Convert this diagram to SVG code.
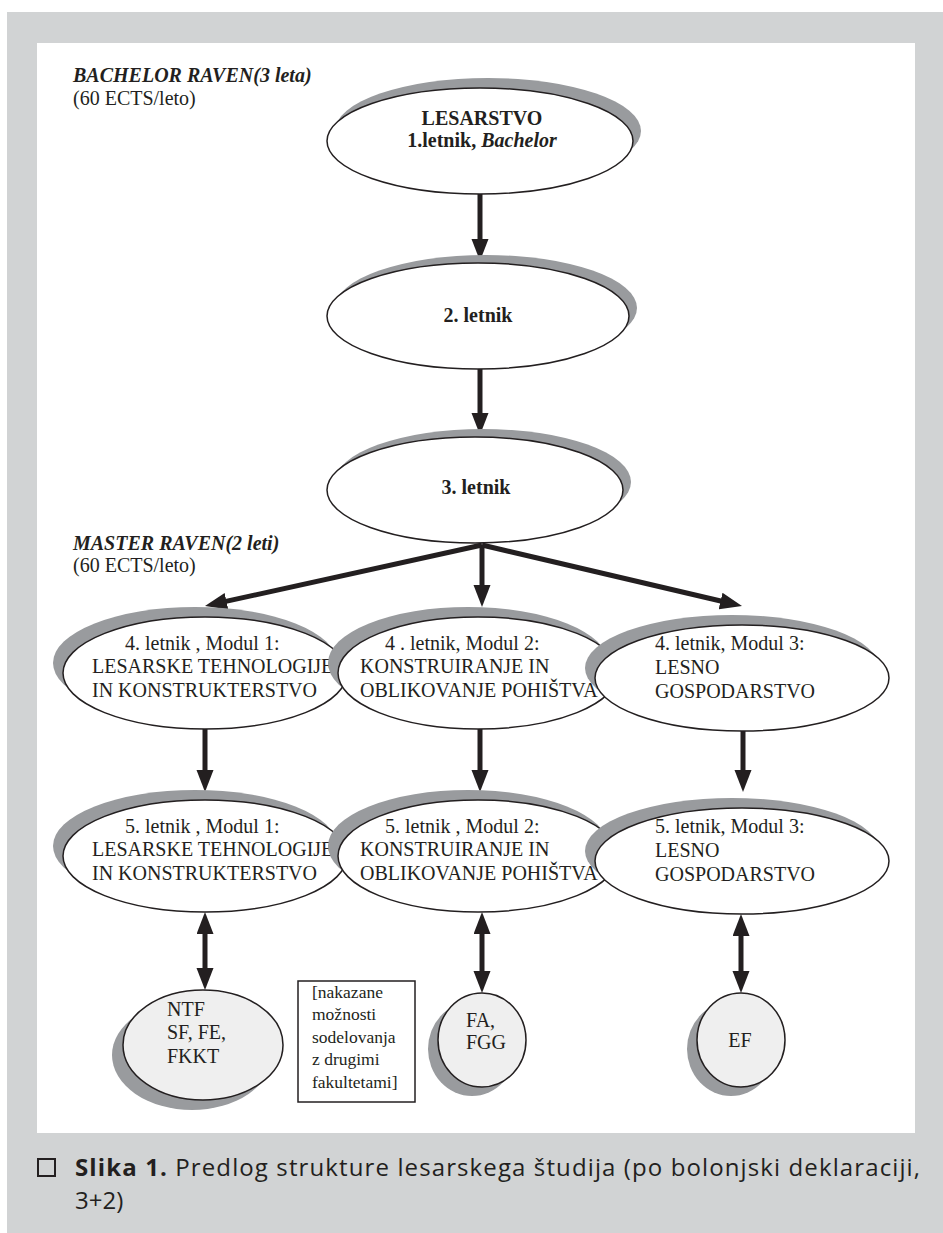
<svg xmlns="http://www.w3.org/2000/svg" width="943" height="1233" viewBox="0 0 943 1233">
<style>
.t{font-family:"Liberation Serif","Times New Roman",serif;fill:#231f20;font-size:20px}
.tb{font-weight:bold}
.bx{font-size:17.5px}
.el{fill:#fff;stroke:#231f20;stroke-width:1.5}
.ci{fill:#efefef;stroke:#231f20;stroke-width:1.5}
.sh{fill:#999b9e}
.ar{stroke:#231f20;stroke-width:5;fill:none}
.cap{font-family:"Open Sans","Noto Sans",sans-serif;fill:#231f20;font-size:24px}
</style>
<defs>
<marker id="ah" markerUnits="userSpaceOnUse" markerWidth="24" markerHeight="18" refX="10" refY="8.5" orient="auto-start-reverse" viewBox="0 0 24 18">
<path d="M0,0 L22,8.5 L0,17 z" fill="#231f20"/>
</marker>
</defs>
<rect x="7" y="12" width="936" height="1221" fill="#d1d3d4"/>
<rect x="37" y="43" width="878" height="1090" fill="#fff"/>

<g id="labels">
<text class="t tb" x="73" y="82" font-size="18.5" font-style="italic">BACHELOR RAVEN(3 leta)</text>
<text class="t" x="73" y="105" font-size="18">(60 ECTS/leto)</text>
<text class="t tb" x="73" y="550" font-size="18.5" font-style="italic">MASTER RAVEN(2 leti)</text>
<text class="t" x="73" y="572" font-size="18">(60 ECTS/leto)</text>
</g>

<g id="connectors">
<line class="ar" x1="480" y1="194" x2="480" y2="249" marker-end="url(#ah)"/>
<line class="ar" x1="480" y1="369" x2="480" y2="423" marker-end="url(#ah)"/>
<line class="ar" x1="482" y1="545" x2="216.7" y2="603.4" marker-end="url(#ah)"/>
<line class="ar" x1="482" y1="545" x2="482" y2="595" marker-end="url(#ah)"/>
<line class="ar" x1="482" y1="545" x2="730.3" y2="603.3" marker-end="url(#ah)"/>
<line class="ar" x1="205" y1="729" x2="205" y2="780" marker-end="url(#ah)"/>
<line class="ar" x1="480" y1="729" x2="480" y2="780" marker-end="url(#ah)"/>
<line class="ar" x1="743" y1="731" x2="743" y2="780" marker-end="url(#ah)"/>
<line class="ar" x1="205" y1="924" x2="205" y2="978" marker-start="url(#ah)" marker-end="url(#ah)"/>
<line class="ar" x1="482" y1="924" x2="482" y2="981" marker-start="url(#ah)" marker-end="url(#ah)"/>
<line class="ar" x1="741" y1="926" x2="741" y2="981" marker-start="url(#ah)" marker-end="url(#ah)"/>
</g>

<g id="n1">
<ellipse class="sh" cx="488" cy="131" rx="153" ry="53"/>
<ellipse class="el" cx="480" cy="141" rx="153" ry="53"/>
<text class="t tb" x="482" y="125" font-size="19.5" text-anchor="middle">LESARSTVO</text>
<text class="t tb" x="482" y="147" font-size="19.5" text-anchor="middle">1.letnik, <tspan font-style="italic">Bachelor</tspan></text>
</g>
<g id="n2">
<ellipse class="sh" cx="486" cy="308" rx="151" ry="53"/>
<ellipse class="el" cx="478" cy="316" rx="151" ry="53"/>
<text class="t tb" x="478" y="322" font-size="17" text-anchor="middle">2. letnik</text>
</g>
<g id="n3">
<ellipse class="sh" cx="483" cy="482" rx="148" ry="53"/>
<ellipse class="el" cx="475" cy="490" rx="148" ry="53"/>
<text class="t tb" x="476" y="494" font-size="17" text-anchor="middle">3. letnik</text>
</g>

<g id="n4a">
<ellipse class="sh" cx="195" cy="663" rx="142" ry="56"/>
<ellipse class="el" cx="205" cy="673" rx="142" ry="56"/>
<text class="t" x="125" y="650">4. letnik , Modul 1:</text>
<text class="t" x="92" y="673">LESARSKE TEHNOLOGIJE</text>
<text class="t" x="92" y="697">IN KONSTRUKTERSTVO</text>
</g>
<g id="n4b">
<ellipse class="sh" cx="468" cy="663" rx="140" ry="56"/>
<ellipse class="el" cx="478" cy="673" rx="140" ry="56"/>
<text class="t" x="385" y="650">4 . letnik, Modul 2:</text>
<text class="t" x="360" y="673">KONSTRUIRANJE IN</text>
<text class="t" x="360" y="697">OBLIKOVANJE POHIŠTVA</text>
</g>
<g id="n4c">
<ellipse class="sh" cx="732" cy="668" rx="147" ry="53"/>
<ellipse class="el" cx="742" cy="678" rx="147" ry="53"/>
<text class="t" x="655" y="650">4. letnik, Modul 3:</text>
<text class="t" x="655" y="674">LESNO</text>
<text class="t" x="655" y="698">GOSPODARSTVO</text>
</g>

<g id="n5a">
<ellipse class="sh" cx="195" cy="846" rx="142" ry="56"/>
<ellipse class="el" cx="205" cy="856" rx="142" ry="56"/>
<text class="t" x="125" y="833">5. letnik , Modul 1:</text>
<text class="t" x="92" y="856">LESARSKE TEHNOLOGIJE</text>
<text class="t" x="92" y="880">IN KONSTRUKTERSTVO</text>
</g>
<g id="n5b">
<ellipse class="sh" cx="468" cy="846" rx="140" ry="56"/>
<ellipse class="el" cx="478" cy="856" rx="140" ry="56"/>
<text class="t" x="385" y="833">5. letnik , Modul 2:</text>
<text class="t" x="360" y="856">KONSTRUIRANJE IN</text>
<text class="t" x="360" y="880">OBLIKOVANJE POHIŠTVA</text>
</g>
<g id="n5c">
<ellipse class="sh" cx="732" cy="851" rx="147" ry="53"/>
<ellipse class="el" cx="742" cy="861" rx="147" ry="53"/>
<text class="t" x="655" y="833">5. letnik, Modul 3:</text>
<text class="t" x="655" y="857">LESNO</text>
<text class="t" x="655" y="881">GOSPODARSTVO</text>
</g>

<g id="n6a">
<ellipse class="sh" cx="192" cy="1055" rx="80" ry="55"/>
<ellipse class="ci" cx="203" cy="1045" rx="80" ry="55"/>
<text class="t" x="167" y="1016">NTF</text>
<text class="t" x="167" y="1039">SF, FE,</text>
<text class="t" x="167" y="1063">FKKT</text>
</g>
<g id="note">
<rect x="298" y="981" width="117" height="121" fill="#fff" stroke="#231f20" stroke-width="1.5"/>
<text class="t bx" x="312" y="998">[nakazane</text>
<text class="t bx" x="312" y="1020">možnosti</text>
<text class="t bx" x="312" y="1043">sodelovanja</text>
<text class="t bx" x="312" y="1065">z drugimi</text>
<text class="t bx" x="312" y="1088">fakultetami]</text>
</g>
<g id="n6b">
<ellipse class="sh" cx="472" cy="1049" rx="44" ry="47"/>
<ellipse class="ci" cx="482" cy="1040" rx="44" ry="47"/>
<text class="t" x="466" y="1027">FA,</text>
<text class="t" x="466" y="1049">FGG</text>
</g>
<g id="n6c">
<ellipse class="sh" cx="731" cy="1049" rx="44" ry="47"/>
<ellipse class="ci" cx="741" cy="1040" rx="44" ry="47"/>
<text class="t" x="740" y="1047" text-anchor="middle">EF</text>
</g>

<g id="caption">
<rect x="38" y="1159" width="17" height="17" fill="none" stroke="#231f20" stroke-width="2"/>
<text class="cap" x="75" y="1176" textLength="845" lengthAdjust="spacing"><tspan font-weight="bold">Slika 1.</tspan> Predlog strukture lesarskega študija (po bolonjski deklaraciji,</text>
<text class="cap" x="75" y="1209">3+2)</text>
</g>
</svg>
